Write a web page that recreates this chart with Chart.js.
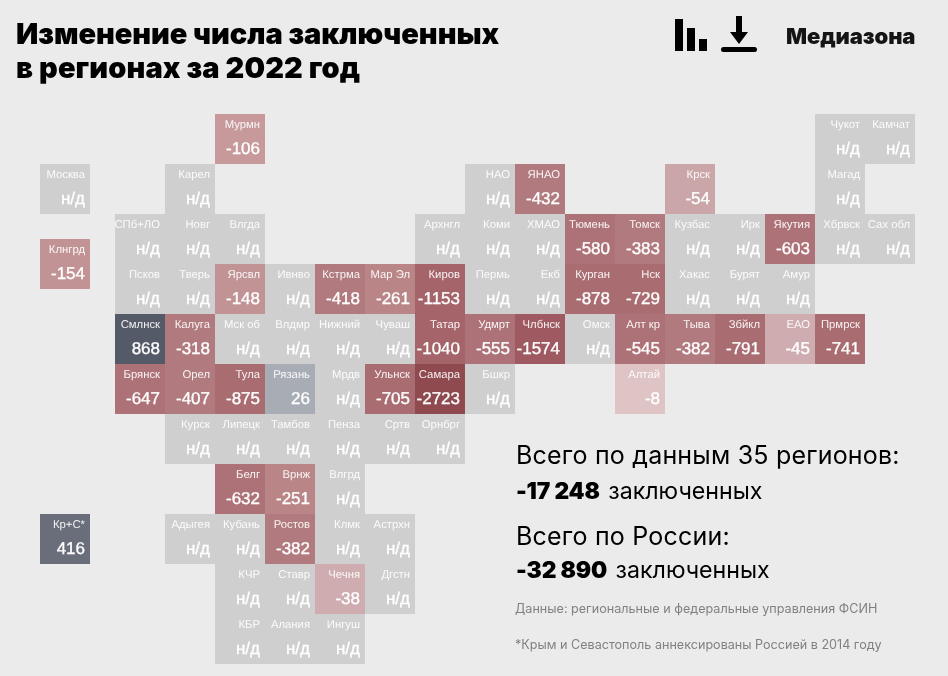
<!DOCTYPE html>
<html lang="ru">
<head>
<meta charset="utf-8">
<title>Изменение числа заключенных</title>
<script src="https://cdn.jsdelivr.net/npm/chart.js@4"></script>
<style>
  html, body { margin: 0; padding: 0; background: #ebebeb; }
  #wrap { position: relative; width: 948px; height: 676px; overflow: hidden; font-family: Inter, sans-serif; }
  canvas { position: absolute; left: 0; top: 0; }
  .t { position: absolute; white-space: nowrap; color: #000; line-height: 1; }
  .title { left: 16px; font-size: 29px; font-weight: 900; letter-spacing: -0.05px; }
  .big { left: 516px; font-size: 25px; font-weight: 400; letter-spacing: 0.2px; }
  .sub { left: 516px; font-size: 23.2px; font-weight: 400; }
  .sub b { font-weight: 900; font-size: 22.8px; letter-spacing: -0.2px; margin-right: 2px; }
  .note { left: 515px; font-size: 12.6px; color: #808080; }
  svg { position: absolute; left: 0; top: 0; }
</style>
</head>
<body>
<div id="wrap">
  <canvas id="myChart" width="948" height="676"></canvas>
  <div class="t title" style="top:19px">Изменение числа заключенных</div>
  <div class="t title" style="top:53px;letter-spacing:0.12px">в регионах за 2022 год</div>
  <div class="t" style="left:786px;top:25px;font-size:22px;font-weight:900;color:#151515;letter-spacing:-0.1px">Медиазона</div>
  <div class="t big" style="top:443px">Всего по данным 35 регионов:</div>
  <div class="t sub" style="top:480px"><b>-17 248</b> заключенных</div>
  <div class="t big" style="top:524px">Всего по России:</div>
  <div class="t sub" style="top:559px"><b>-32 890</b> заключенных</div>
  <div class="t note" style="top:603px">Данные: региональные и федеральные управления ФСИН</div>
  <div class="t note" style="top:639px">*Крым и Севастополь аннексированы Россией в 2014 году</div>
  <svg width="948" height="70" viewBox="0 0 948 70">
    <path d="M675 19h8v32h-8zM687 28h8v23h-8zM699 39h8v12h-8z" fill="#000"/>
    <path d="M736 16h6v16h6l-9 12-9-12h6z" fill="#000"/>
    <rect x="721" y="47" width="36" height="5" rx="2.5" fill="#000"/>
  </svg>
</div>
<script>
// tile map: col/row are grid positions of the regions
const names = [
  'Мурмн','Чукот','Камчат',
  'Москва','Карел','НАО','ЯНАО','Крск','Магад',
  'СПб+ЛО','Новг','Влгда','Архнгл','Коми','ХМАО','Тюмень','Томск','Кузбас','Ирк','Якутия','Хбрвск','Сах обл',
  'Клнгрд',
  'Псков','Тверь','Ярсвл','Ивнво','Кстрма','Мар Эл','Киров','Пермь','Екб','Курган','Нск','Хакас','Бурят','Амур',
  'Смлнск','Калуга','Мск об','Влдмр','Нижний','Чуваш','Татар','Удмрт','Члбнск','Омск','Алт кр','Тыва','Збйкл','ЕАО','Прмрск',
  'Брянск','Орел','Тула','Рязань','Мрдв','Ульнск','Самара','Бшкр','Алтай',
  'Курск','Липецк','Тамбов','Пенза','Сртв','Орнбрг',
  'Белг','Врнж','Влгрд',
  'Кр+С*','Адыгея','Кубань','Ростов','Клмк','Астрхн',
  'КЧР','Ставр','Чечня','Дгстн',
  'КБР','Алания','Ингуш'
];
const values = [
  -106,null,null,
  null,null,null,-432,-54,null,
  null,null,null,null,null,null,-580,-383,null,null,-603,null,null,
  -154,
  null,null,-148,null,-418,-261,-1153,null,null,-878,-729,null,null,null,
  868,-318,null,null,null,null,-1040,-555,-1574,null,-545,-382,-791,-45,-741,
  -647,-407,-875,26,null,-705,-2723,null,-8,
  null,null,null,null,null,null,
  -632,-251,null,
  416,null,null,-382,null,null,
  null,null,-38,null,
  null,null,null
];
const cols = [
  2,14,15,
  -1.5,1,7,8,11,14,
  0,1,2,6,7,8,9,10,11,12,13,14,15,
  -1.5,
  0,1,2,3,4,5,6,7,8,9,10,11,12,13,
  0,1,2,3,4,5,6,7,8,9,10,11,12,13,14,
  0,1,2,3,4,5,6,7,10,
  1,2,3,4,5,6,
  2,3,4,
  -1.5,1,2,3,4,5,
  2,3,4,5,
  2,3,4
];
const rows = [
  0,0,0,
  1,1,1,1,1,1,
  2,2,2,2,2,2,2,2,2,2,2,2,2,
  2.5,
  3,3,3,3,3,3,3,3,3,3,3,3,3,3,
  4,4,4,4,4,4,4,4,4,4,4,4,4,4,4,
  5,5,5,5,5,5,5,5,5,
  6,6,6,6,6,6,
  7,7,7,
  8,8,8,8,8,8,
  9,9,9,9,
  10,10,10
];

function getColor(v){
    if(v === null) return '#cfcfcf';
    if(v > 500) return '#555a68';
    if(v > 100) return '#6a6e7a';
    if(v > 0) return '#a8acb5';
    if(v > -20) return '#dfc4c6';
    if(v > -50) return '#cfacaf';
    if(v > -80) return '#cba6a9';
    if(v > -130) return '#c7999b';
    if(v > -200) return '#c19395';
    if(v > -300) return '#b98587';
    if(v > -500) return '#b17a7e';
    if(v > -700) return '#ad7277';
    if(v > -1000) return '#a96c71';
    if(v > -1300) return '#a4646a';
    if(v > -2000) return '#9e5a60';
    return '#8f4a50';
}

const cellLabels = {
    id: 'cellLabels',
    afterDatasetsDraw(chart){
        const c = chart.ctx;
        const x = chart.scales.x;
        const y = chart.scales.y;
        c.save();
        c.textAlign = 'right';
        c.textBaseline = 'alphabetic';
        c.textRendering = 'geometricPrecision';
        c.strokeStyle = '#fff';
        c.lineWidth = 0.35;
        names.forEach(function(name, i){
            const right = x.getPixelForValue(cols[i] + 0.5) - 5;
            const top = y.getPixelForValue(rows[i] - 0.5);
            const text = values[i] === null ? 'н/д' : String(values[i]);
            c.fillStyle = 'rgba(255,255,255,0.92)';
            c.font = '11.3px "Liberation Sans"';
            c.fillText(name, right, top + 13.5);
            c.fillStyle = '#fff';
            c.font = '17px "Liberation Sans"';
            c.fillText(text, right, top + 40);
            c.strokeText(text, right, top + 40);
        });
        c.restore();
    }
};

new Chart(document.getElementById('myChart').getContext('2d'), {
    type: 'scatter',
    data: {
        labels: names,
        datasets: [{
            data: names.map(function(n, i){ return {x: cols[i], y: rows[i]}; }),
            pointStyle: 'rect',
            pointRadius: 50 * Math.SQRT1_2,
            pointBorderWidth: 0,
            backgroundColor: values.map(getColor)
        }]
    },
    plugins: [cellLabels],
    options: {
        responsive: false,
        animation: false,
        devicePixelRatio: 1,
        layout: {padding: 0, autoPadding: false},
        plugins: {legend: {display: false}, tooltip: {enabled: false}},
        scales: {
            x: {type: 'linear', display: false, min: -2.8, max: 16.16},
            y: {type: 'linear', display: false, reverse: true, min: -2.78, max: 10.74}
        }
    }
});
</script>
</body>
</html>
